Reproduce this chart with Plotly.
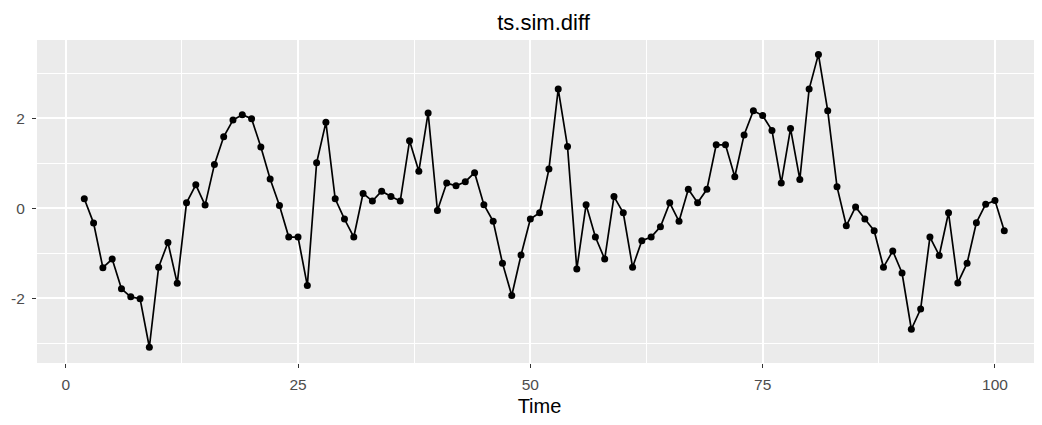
import plotly.graph_objects as go

time = list(range(2, 102))
values = [
    0.21, -0.33, -1.32, -1.13, -1.79, -1.97, -2.01, -3.09, -1.31, -0.76,
    -1.67, 0.12, 0.52, 0.07, 0.97, 1.59, 1.96, 2.08, 1.99, 1.36,
    0.65, 0.06,
    -0.64, -0.64, -1.72, 1.01, 1.91, 0.21, -0.24, -0.64, 0.33, 0.16,
    0.38, 0.26, 0.16, 1.50, 0.82, 2.12, -0.05, 0.56, 0.50, 0.59,
    0.79, 0.08, -0.29, -1.22, -1.94, -1.04, -0.24, -0.10,
    0.87, 2.65, 1.37, -1.35, 0.08, -0.64, -1.13, 0.26, -0.10, -1.31,
    -0.72, -0.64, -0.41, 0.12, -0.29, 0.42, 0.12, 0.42, 1.41, 1.41,
    0.70, 1.63, 2.17, 2.06, 1.73, 0.56, 1.77, 0.64,
    2.65, 3.42, 2.17, 0.48, -0.39, 0.03, -0.24, -0.50, -1.31, -0.95,
    -1.44, -2.69, -2.24, -0.64, -1.05, -0.10, -1.66, -1.22, -0.32, 0.09,
    0.17, -0.50,
]
x_ticks = [0, 25, 50, 75, 100]
y_ticks = [-2, 0, 2]
title_text = "ts.sim.diff"
x_title = "Time"

FONT = "Liberation Sans, Arial, sans-serif"

fig = go.Figure()
fig.add_trace(go.Scatter(
    x=time, y=values, mode="lines+markers",
    line=dict(color="black", width=1.7),
    marker=dict(color="black", size=7),
    showlegend=False, hoverinfo="x+y",
))

axis_common = dict(
    showline=False, zeroline=False, automargin=False,
    gridcolor="white", gridwidth=1.8,
    ticks="outside", ticklen=4, tickwidth=1, tickcolor="#333333",
    tickfont=dict(family=FONT, size=15.5, color="#4D4D4D"),
)

fig.update_xaxes(
    range=[-3.09, 105.06], tickvals=x_ticks, ticktext=[str(t) for t in x_ticks],
    minor=dict(tickvals=[12.5, 37.5, 62.5, 87.5], showgrid=True, gridcolor="white",
               gridwidth=0.9, ticks=""),
    ticklabelstandoff=3,
    title=dict(text=x_title, font=dict(family=FONT, size=20, color="black"), standoff=9),
    **axis_common,
)
fig.update_yaxes(
    range=[-3.44, 3.74], tickvals=y_ticks, ticktext=[str(t) for t in y_ticks],
    minor=dict(tickvals=[-3, -1, 1, 3], showgrid=True, gridcolor="white",
               gridwidth=0.9, ticks=""),
    ticklabelstandoff=4,
    **axis_common,
)

fig.update_layout(
    width=1034, height=409,
    margin=dict(l=29, r=0, t=32, b=54, autoexpand=False),
    plot_bgcolor="#EBEBEB", paper_bgcolor="white",
    title=dict(text=title_text, x=0.504, xref="paper", xanchor="center",
               y=1 - 14 / 409, yref="container", yanchor="middle",
               font=dict(family=FONT, size=22, color="black")),
)

fig.write_html("out.html")
